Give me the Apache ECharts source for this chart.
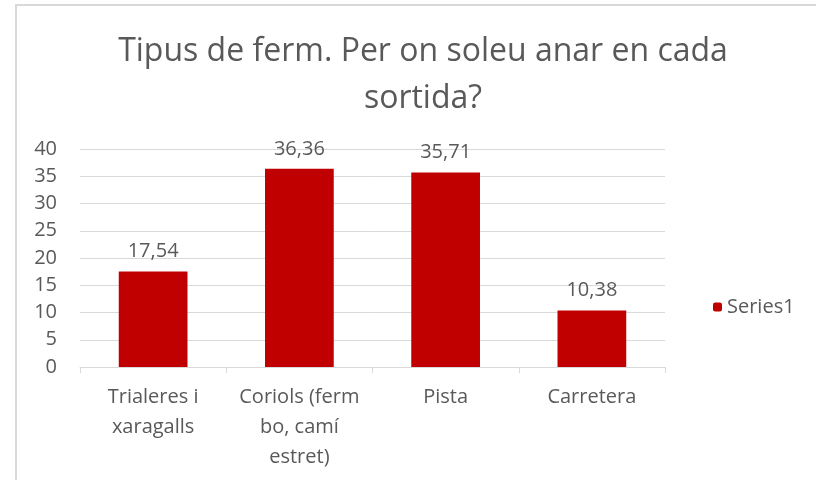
<!DOCTYPE html>
<html>
<head>
<meta charset="utf-8">
<script src="https://cdn.jsdelivr.net/npm/echarts@6/dist/echarts.min.js"></script>
<style>
    html, body { margin: 0; padding: 0; background: #fff; }
    #chart { width: 816px; height: 480px; position: relative; }
    .frame {
        position: absolute; left: 15px; top: 4px; right: 0; bottom: 0;
        border-left: 2px solid #d9d9d9; border-top: 2px solid #d9d9d9;
        pointer-events: none;
    }
</style>
</head>
<body>
<div id="chart"></div>
<div class="frame"></div>
<script>
// dades del gràfic
const categories = ['Trialeres i xaragalls', 'Coriols (ferm bo, camí estret)', 'Pista', 'Carretera']
const categoryLabels = ['Trialeres i\nxaragalls', 'Coriols (ferm\nbo, camí\nestret)', 'Pista', 'Carretera']
const values = [17.54, 36.36, 35.71, 10.38]
const seriesName = 'Series1'

const textColor = '#595959'
const font = '"Open Sans", "Noto Sans", sans-serif'

const chart = echarts.init(document.getElementById('chart'))
chart.setOption({
    animation: false,
    title: {
        text: 'Tipus de ferm. Per on soleu anar en cada\nsortida?',
        left: 418,
        textAlign: 'center',
        top: 23,
        textStyle: {
            color: textColor,
            fontFamily: font,
            fontWeight: 'normal',
            fontSize: 32,
            lineHeight: 47
        }
    },
    legend: {
        data: [seriesName],
        orient: 'vertical',
        left: 708,
        top: 292,
        itemWidth: 9,
        itemHeight: 9,
        itemGap: 6,
        textStyle: { color: textColor, fontFamily: font, fontSize: 20 }
    },
    grid: {
        left: 80,
        right: 151,
        top: 149,
        bottom: 113
    },
    xAxis: {
        type: 'category',
        data: categories,
        axisLine: { lineStyle: { color: '#d9d9d9' } },
        axisTick: { show: true, length: 6, lineStyle: { color: '#d9d9d9' } },
        axisLabel: {
            color: textColor,
            fontFamily: font,
            fontSize: 20,
            lineHeight: 30,
            margin: 15,
            interval: 0,
            formatter: (v, i) => categoryLabels[i]
        }
    },
    yAxis: {
        type: 'value',
        min: 0,
        max: 40,
        interval: 5,
        axisLine: { show: false },
        axisTick: { show: false },
        splitLine: { lineStyle: { color: '#d9d9d9' } },
        axisLabel: {
            color: textColor,
            fontFamily: font,
            fontSize: 20,
            margin: 23
        }
    },
    series: [
        {
            name: seriesName,
            type: 'bar',
            data: values,
            barWidth: '47%',
            itemStyle: { color: '#c00000' },
            label: {
                show: true,
                position: 'top',
                distance: 10,
                color: textColor,
                fontFamily: font,
                fontSize: 20,
                formatter: (p) => p.value.toFixed(2).replace('.', ',')
            }
        }
    ]
})
</script>
</body>
</html>
